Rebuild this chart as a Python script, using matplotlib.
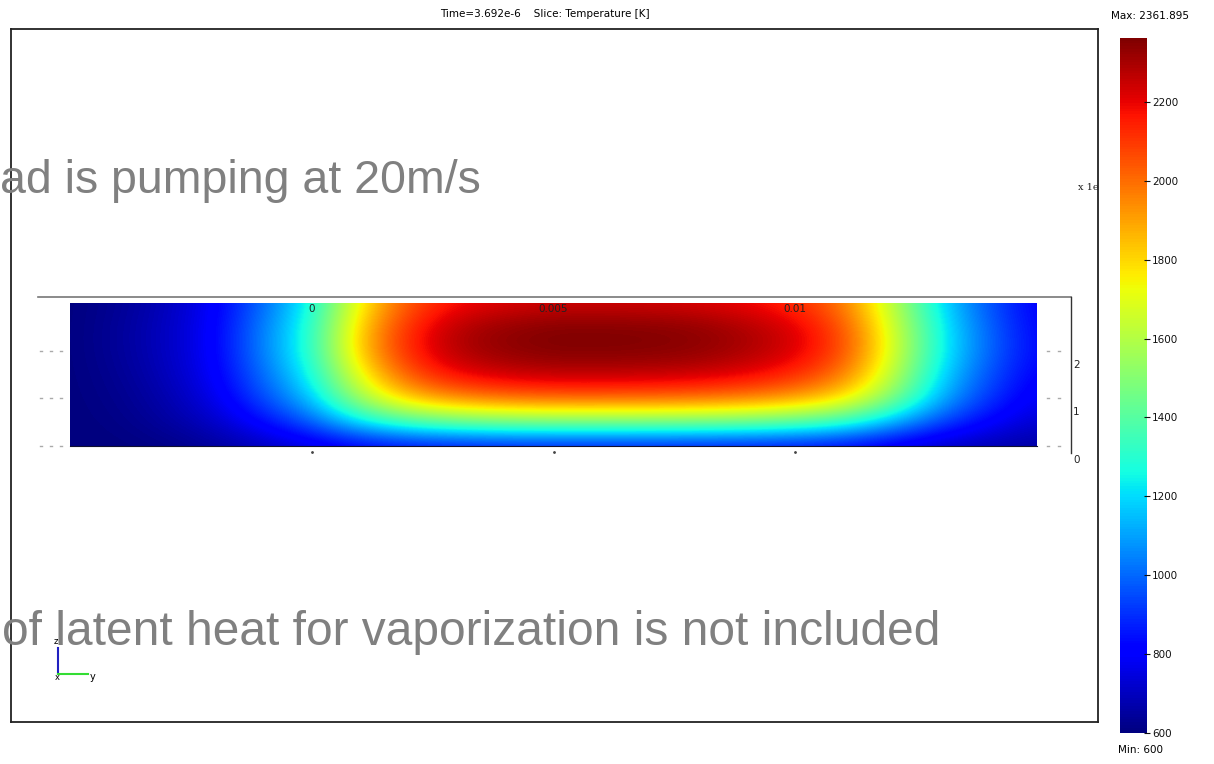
import numpy as np
import matplotlib
matplotlib.use("Agg")
import matplotlib.pyplot as plt
from matplotlib.lines import Line2D

# ---- data ----
y_pos = [-0.005, -0.004, -0.003, -0.002, -0.001, 0.0, 0.001, 0.002, 0.003, 0.004,
         0.005, 0.006, 0.007, 0.008, 0.009, 0.010, 0.011, 0.012, 0.013, 0.014, 0.015]
z_pos = [0.0, 0.5, 1.0, 1.5, 2.0, 2.5, 3.0]
T_z0 = [600, 600, 610, 640, 690, 740, 790, 820, 830, 840, 840, 840, 840, 835, 830, 820, 800, 750, 700, 670, 650]
T_z05 = [600, 610, 650, 710, 830, 980, 1220, 1360, 1430, 1460, 1470, 1470, 1468, 1460, 1440, 1400, 1320, 1140, 940, 810, 720]
T_z1 = [600, 620, 670, 760, 950, 1160, 1580, 1850, 1960, 2010, 2030, 2030, 2025, 2010, 1980, 1920, 1800, 1500, 1130, 910, 770]
T_z15 = [600, 630, 690, 790, 1010, 1250, 1740, 2060, 2200, 2250, 2270, 2270, 2265, 2250, 2210, 2140, 1990, 1640, 1200, 960, 800]
T_z2 = [600, 640, 700, 800, 1050, 1300, 1850, 2150, 2290, 2340, 2360, 2360, 2355, 2340, 2300, 2230, 2080, 1700, 1250, 1000, 820]
T_z25 = [600, 640, 700, 800, 1040, 1290, 1830, 2130, 2280, 2330, 2355, 2355, 2350, 2335, 2290, 2220, 2060, 1680, 1240, 990, 810]
T_z3 = [600, 630, 690, 790, 1000, 1250, 1750, 2050, 2170, 2210, 2230, 2230, 2225, 2210, 2180, 2120, 1980, 1620, 1200, 960, 800]
T_min, T_max = 600, 2361.895
x_ticks = [0, 0.005, 0.01]
x_ticklabels = ["0", "0.005", "0.01"]
z_ticks = [0, 1, 2]
cb_ticks = [800, 1000, 1200, 1400, 1600, 1800, 2000, 2200]
title = "Time=3.692e-6    Slice: Temperature [K]"

W, H = 1214, 764
fig = plt.figure(figsize=(W / 100, H / 100), dpi=100)

def rect(l, t, r, b):
    return [l / W, 1 - b / H, (r - l) / W, (b - t) / H]

def fx(x):
    return x / W

def fy(y):
    return 1 - y / H

# outer frame
frame = fig.add_axes(rect(11, 29, 1098, 722))
frame.set_xticks([]); frame.set_yticks([])
for s in frame.spines.values():
    s.set_linewidth(1.3); s.set_color("#222222")
frame.set_facecolor("white")

fig.text(fx(545), fy(14), title, ha="center", va="center", fontsize=7.5,
         family="DejaVu Sans", color="black")

# heat map axes
ax = fig.add_axes(rect(70, 303, 1037, 446))
T = np.array([T_z0, T_z05, T_z1, T_z15, T_z2, T_z25, T_z3])
dy = y_pos[1] - y_pos[0]
dz = z_pos[1] - z_pos[0]
mesh = ax.imshow(T, cmap="jet", vmin=T_min, vmax=T_max, origin="lower",
                 interpolation="bicubic", aspect="auto",
                 extent=[y_pos[0] - dy / 2, y_pos[-1] + dy / 2,
                         z_pos[0] - dz / 2, z_pos[-1] + dz / 2])
ax.set_xlim(y_pos[0], y_pos[-1]); ax.set_ylim(z_pos[0], z_pos[-1])
ax.set_xticks([]); ax.set_yticks([])
for s in ax.spines.values():
    s.set_visible(False)
ax.spines["bottom"].set_visible(True)
ax.spines["bottom"].set_color("#101030")
for v, lab in zip(x_ticks, x_ticklabels):
    ax.text(v, 0.99, lab, transform=ax.get_xaxis_transform(), ha="center", va="top",
            fontsize=7.5, color="#222222")
    ax.plot([v], [-0.04], marker=".", ms=2, color="#444444",
            transform=ax.get_xaxis_transform(), clip_on=False)

# surrounding axis lines
fig.add_artist(Line2D([fx(38), fx(1071)], [fy(297), fy(297)], color="#777777", lw=1.2))
fig.add_artist(Line2D([fx(1071), fx(1071)], [fy(297), fy(453)], color="#333333", lw=1.0))
for zt in z_ticks:
    yy = 446 - zt * (446 - 303) / 3.0
    fig.text(fx(1073), fy(yy + 14), str(zt), ha="left", va="center", fontsize=7.5, color="#222222")
    for xx in (40, 50, 60):
        fig.add_artist(Line2D([fx(xx), fx(xx + 2)], [fy(yy), fy(yy)], color="#aaaaaa", lw=1))
    for xx in (1047, 1058):
        fig.add_artist(Line2D([fx(xx), fx(xx + 2)], [fy(yy), fy(yy)], color="#aaaaaa", lw=1))

fig.text(fx(1078), fy(187), "x 1e", ha="left", va="center", fontsize=7,
         family="DejaVu Serif", color="#222222")

# coordinate triad
fig.add_artist(Line2D([fx(58), fx(58)], [fy(648), fy(674)], color="#2020c0", lw=1.5))
fig.add_artist(Line2D([fx(58), fx(88)], [fy(674), fy(674)], color="#33dd33", lw=1.5))
fig.text(fx(56), fy(641), "z", ha="center", va="center", fontsize=6)
fig.text(fx(93), fy(677), "y", ha="center", va="center", fontsize=7)
fig.text(fx(57), fy(678), "x", ha="center", va="center", fontsize=6)

# colorbar
cax = fig.add_axes(rect(1120, 38, 1147, 733))
cb = fig.colorbar(mesh, cax=cax, ticks=cb_ticks)
cb.outline.set_visible(False)
cax.tick_params(axis="y", direction="inout", length=5, width=0.8, labelsize=7.5, pad=1,
                colors="#111111")
cax.set_yticks([T_min] + cb_ticks)
cax.set_yticklabels([str(T_min)] + [str(v) for v in cb_ticks])
fig.text(fx(1150), fy(16), "Max: %s" % T_max, ha="center", va="center", fontsize=7.5)
fig.text(fx(1140), fy(750), "Min: %d" % T_min, ha="center", va="center", fontsize=7.5)

# overlaid slide text
fig.text(fx(0), fy(193), "ad is pumping at 20m/s", ha="left", va="baseline",
         fontsize=33.5, family="Liberation Sans", color="#808080")
fig.text(fx(2), fy(645), "of latent heat for vaporization is not included", ha="left",
         va="baseline", fontsize=34.5, family="Liberation Sans", color="#808080")

fig.savefig("out.png", dpi=100)
